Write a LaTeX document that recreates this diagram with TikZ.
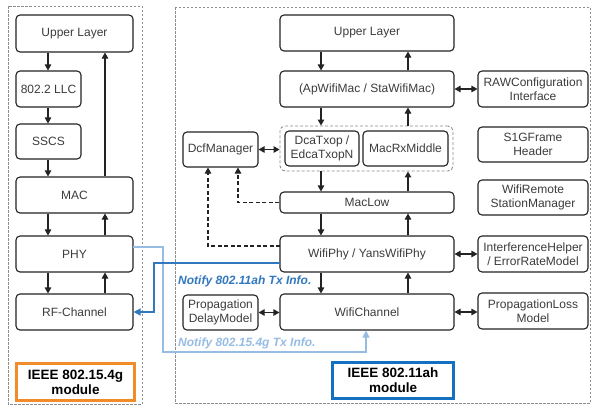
\documentclass[tikz,border=0pt]{standalone}
\usepackage{fontspec}
\setmainfont{Liberation Sans}
\usetikzlibrary{arrows.meta}
\definecolor{txt}{RGB}{60,60,60}
\definecolor{frame}{RGB}{35,35,35}
\definecolor{dashgray}{RGB}{140,140,140}
\definecolor{notedark}{RGB}{50,120,190}
\definecolor{notelight}{RGB}{150,188,228}
\definecolor{orangeframe}{RGB}{242,140,40}
\definecolor{blueframe}{RGB}{20,112,192}
\begin{document}
\begin{tikzpicture}[x=1pt,y=-1pt,
  box/.style={draw=frame, line width=1.1pt, rounded corners=4pt, fill=white, text=txt,
    align=center, inner sep=0pt, font=\fontsize{12}{14.5}\selectfont},
  grp/.style={draw=dashgray, line width=0.9pt, dash pattern=on 3pt off 2pt, rounded corners=5pt, inner sep=0pt},
  area/.style={draw=dashgray, line width=0.9pt, dash pattern=on 2.5pt off 1.5pt},
  tip/.tip={Triangle[length=6pt,width=6.5pt]},
  arr/.style={-tip, line width=1.1pt, draw=frame},
  darr/.style={tip-tip, line width=1.1pt, draw=frame},
  dsh/.style={arr, dash pattern=on 4pt off 2.5pt},
  tag/.style={line width=3pt, fill=white, font=\bfseries\fontsize{13.5}{15}\selectfont, align=center, inner sep=0pt},
  note/.style={anchor=west, inner sep=0pt, font=\bfseries\itshape\fontsize{12}{13}\selectfont}
]
\fill[white] (0,0) rectangle (593,408);
\useasboundingbox (0,0) rectangle (593,408);

% module frames
\draw[area] (8,6) rectangle (142,404);
\draw[area] (175,7) rectangle (590,403);

% column positions of the vertical links
\coordinate (lx1) at (48,0);
\coordinate (lx2) at (105,0);
\coordinate (rx1) at (321,0);
\coordinate (rx2) at (408,0);

% 802.15.4g stack
\node[box, minimum width=117pt, minimum height=37pt] (up1) at (74.5,33.5) {Upper Layer};
\node[box, minimum width=65pt, minimum height=36pt] (llc) at (48.5,89) {802.2 LLC};
\node[box, minimum width=65pt, minimum height=35pt] (sscs) at (48.5,141.5) {SSCS};
\node[box, minimum width=117pt, minimum height=36pt] (mac) at (74.5,195) {MAC};
\node[box, minimum width=117pt, minimum height=36pt] (phy) at (74.5,254) {PHY};
\node[box, minimum width=117pt, minimum height=36pt] (rf) at (74.5,312) {RF-Channel};
\node[tag, draw=orangeframe, minimum width=118pt, minimum height=37pt] (t1) at (75.5,382) {IEEE 802.15.4g\\module};

% 802.11ah stack
\node[box, minimum width=174pt, minimum height=36pt] (up2) at (367,33) {Upper Layer};
\node[box, minimum width=174pt, minimum height=36pt] (wmac) at (367,89) {(ApWifiMac / StaWifiMac)};
\node[grp, minimum width=173pt, minimum height=45pt] (grp) at (366.5,148.5) {};
\node[box, minimum width=74pt, minimum height=35pt] (dca) at (322,148.5) {DcaTxop /\\EdcaTxopN};
\node[box, minimum width=85pt, minimum height=35pt] (rxm) at (405.5,148.5) {MacRxMiddle};
\node[box, minimum width=75pt, minimum height=35pt] (dcf) at (220.5,149.5) {DcfManager};
\node[box, minimum width=174pt, minimum height=21pt] (low) at (367,202.5) {MacLow};
\node[box, minimum width=174pt, minimum height=36pt] (wphy) at (367,254) {WifiPhy / YansWifiPhy};
\node[box, minimum width=174pt, minimum height=36pt] (wch) at (367,312) {WifiChannel};
\node[box, minimum width=75pt, minimum height=35pt] (pdm) at (220.5,312.5) {Propagation\\DelayModel};
\node[box, minimum width=110pt, minimum height=36pt] (raw) at (533,89) {RAWConfiguration\\Interface};
\node[box, minimum width=110pt, minimum height=35pt] (s1g) at (533,144.5) {S1GFrame\\Header};
\node[box, minimum width=110pt, minimum height=35pt] (wrsm) at (533,197.5) {WifiRemote\\StationManager};
\node[box, minimum width=110pt, minimum height=36pt] (ieh) at (533,254) {InterferenceHelper\\/ ErrorRateModel};
\node[box, minimum width=110pt, minimum height=36pt] (plm) at (533,311) {PropagationLoss\\Model};
\node[tag, draw=blueframe, minimum width=121pt, minimum height=36pt] (t2) at (393,380.5) {IEEE 802.11ah\\module};

% 802.15.4g links
\draw[arr] (up1.south -| lx1) -- (llc.north -| lx1);
\draw[arr] (llc.south -| lx1) -- (sscs.north -| lx1);
\draw[arr] (sscs.south -| lx1) -- (mac.north -| lx1);
\draw[arr] (mac.north -| lx2) -- (up1.south -| lx2);
\draw[arr] (mac.south -| lx1) -- (phy.north -| lx1);
\draw[arr] (phy.north -| lx2) -- (mac.south -| lx2);
\draw[arr] (phy.south -| lx1) -- (rf.north -| lx1);
\draw[arr] (rf.north -| lx2) -- (phy.south -| lx2);

% 802.11ah links
\draw[arr] (up2.south -| rx1) -- (wmac.north -| rx1);
\draw[arr] (wmac.north -| rx2) -- (up2.south -| rx2);
\draw[arr] (wmac.south -| rx1) -- (grp.north -| rx1);
\draw[arr] (grp.north -| rx2) -- (wmac.south -| rx2);
\draw[arr] (grp.south -| rx1) -- (low.north -| rx1);
\draw[arr] (low.north -| rx2) -- (grp.south -| rx2);
\draw[arr] (low.south -| rx1) -- (wphy.north -| rx1);
\draw[arr] (wphy.north -| rx2) -- (low.south -| rx2);
\draw[arr] (wphy.south -| rx1) -- (wch.north -| rx1);
\draw[arr] (wch.north -| rx2) -- (wphy.south -| rx2);

\draw[darr] (dcf.east) -- (dcf.east -| grp.west);
\draw[darr] (wmac.east) -- (wmac.east -| raw.west);
\draw[darr] (wphy.east) -- (wphy.east -| ieh.west);
\draw[darr] (wch.east) -- (wch.east -| plm.west);
\draw[darr] (pdm.east) -- (pdm.east -| wch.west);

% dashed feedback into the DcfManager
\coordinate (d1) at (238,0);
\coordinate (d2) at (208,0);
\coordinate (wpa) at (280,246);
\coordinate (wpb) at (280,263);
\draw[dsh] (low.west) -| (dcf.south -| d1);
\draw[dsh] (wpa) -| (dcf.south -| d2);

% cross-module notifications
\coordinate (pa) at (133,247);
\coordinate (lb) at (163,0);
\coordinate (lc) at (366,352);
\coordinate (db) at (154,0);
\draw[notelight, line width=1.2pt, -{Triangle[length=7pt,width=7pt]}]
  (pa) -- (pa -| lb) -- (lc -| lb) -- (lc) -- (wch.south -| lc);
\draw[notedark, line width=1.4pt, -{Triangle[length=7pt,width=7pt]}]
  (wpb) -- (wpb -| db) -- (rf.east -| db) -- (rf.east);
\node[note, text=notedark] (n1) at (178,281) {Notify 802.11ah Tx Info.};
\node[note, text=notelight] (n2) at (178,343) {Notify 802.15.4g Tx Info.};
\end{tikzpicture}
\end{document}
